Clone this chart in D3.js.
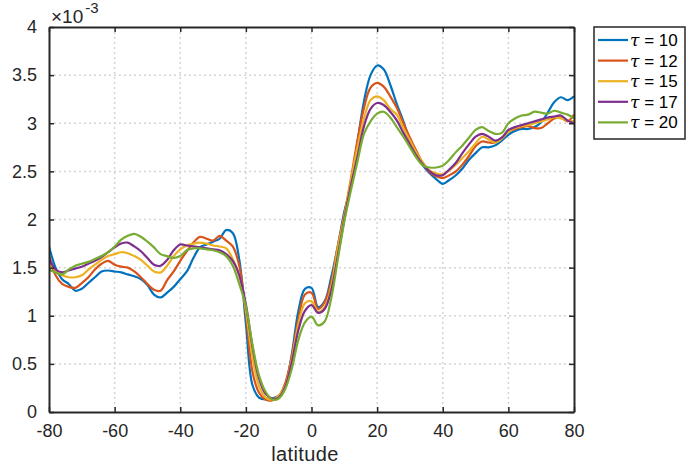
<!DOCTYPE html>
<html>
<head>
<meta charset="utf-8">
<script src="https://cdn.jsdelivr.net/npm/d3@7"></script>
<style>
  body { margin: 0; background: #fff; }
  svg { font-family: "Liberation Sans", Arial, Helvetica, sans-serif; }
</style>
</head>
<body>
<div id="chart"></div>
<script>
// latitude grid and the five series (values are x 1e-3)
var lat = [-80,-78,-76,-74,-72,-70,-68,-66,-64,-62,-60,-58,-56,-54,-52,-50,-48,-46,-44,-42,
  -40,-38,-36,-34,-32,-30,-28,-26,-24,-22,-20,-18,-16,-14,-12,-10,-8,-6,-4,-2,
  0,2,4,6,8,10,12,14,16,18,20,22,24,26,28,30,32,34,36,38,
  40,42,44,46,48,50,52,54,56,58,60,62,64,66,68,70,72,74,76,78,80];

var tau10 = [1.72,1.50,1.38,1.33,1.26,1.28,1.34,1.40,1.46,1.47,1.46,1.45,1.43,1.41,1.38,1.32,1.22,1.19,1.24,1.30,
  1.38,1.46,1.60,1.71,1.74,1.77,1.80,1.89,1.86,1.58,0.92,0.28,0.15,0.13,0.14,0.17,0.28,0.60,1.05,1.28,
  1.29,1.09,1.15,1.40,1.72,2.08,2.35,2.80,3.23,3.50,3.60,3.56,3.40,3.20,3.02,2.82,2.68,2.56,2.48,2.42,
  2.37,2.41,2.46,2.53,2.62,2.69,2.75,2.75,2.77,2.82,2.88,2.92,2.94,2.94,2.96,3.01,3.11,3.22,3.27,3.24,3.28];

var tau12 = [1.63,1.42,1.33,1.30,1.29,1.34,1.40,1.48,1.54,1.57,1.53,1.51,1.50,1.46,1.40,1.33,1.27,1.26,1.37,1.46,
  1.57,1.67,1.76,1.82,1.80,1.78,1.83,1.78,1.72,1.52,1.02,0.42,0.20,0.13,0.12,0.16,0.30,0.58,0.96,1.22,
  1.24,1.07,1.14,1.35,1.72,2.05,2.42,2.82,3.16,3.37,3.42,3.38,3.28,3.16,3.00,2.85,2.71,2.58,2.49,2.45,
  2.43,2.46,2.50,2.57,2.66,2.76,2.81,2.80,2.80,2.85,2.91,2.94,2.96,2.97,2.95,2.95,3.00,3.05,3.06,3.02,3.09];

var tau15 = [1.55,1.47,1.42,1.40,1.40,1.42,1.48,1.53,1.58,1.62,1.64,1.66,1.65,1.62,1.58,1.52,1.46,1.45,1.52,1.62,
  1.69,1.73,1.75,1.76,1.75,1.73,1.72,1.70,1.59,1.42,1.06,0.57,0.27,0.15,0.13,0.17,0.27,0.55,0.91,1.13,
  1.15,1.04,1.09,1.30,1.70,2.03,2.40,2.75,3.05,3.24,3.28,3.24,3.15,3.09,2.95,2.82,2.69,2.59,2.51,2.48,
  2.47,2.51,2.57,2.64,2.71,2.79,2.86,2.83,2.80,2.84,2.91,2.95,2.97,2.98,3.00,3.02,3.04,3.06,3.05,3.03,3.02];

var tau17 = [1.60,1.48,1.45,1.47,1.49,1.51,1.54,1.57,1.61,1.66,1.71,1.75,1.76,1.72,1.67,1.60,1.53,1.52,1.58,1.68,
  1.74,1.73,1.72,1.71,1.70,1.69,1.68,1.64,1.57,1.42,1.12,0.68,0.35,0.19,0.14,0.15,0.26,0.52,0.85,1.05,
  1.11,1.03,1.07,1.26,1.62,2.00,2.35,2.65,2.97,3.15,3.21,3.19,3.12,3.03,2.90,2.78,2.66,2.57,2.50,2.46,
  2.46,2.52,2.59,2.69,2.78,2.86,2.89,2.86,2.82,2.85,2.93,2.96,2.98,3.00,3.02,3.04,3.06,3.07,3.08,3.03,3.00];

var tau20 = [1.48,1.45,1.43,1.48,1.52,1.54,1.56,1.59,1.62,1.66,1.72,1.79,1.83,1.85,1.82,1.77,1.71,1.64,1.62,1.60,
  1.62,1.68,1.70,1.70,1.69,1.68,1.66,1.62,1.52,1.33,1.10,0.70,0.38,0.21,0.13,0.14,0.24,0.45,0.75,0.93,
  0.99,0.90,0.94,1.18,1.58,1.98,2.30,2.60,2.89,3.02,3.10,3.12,3.06,2.96,2.86,2.75,2.64,2.56,2.54,2.54,
  2.56,2.62,2.70,2.77,2.85,2.93,2.96,2.92,2.89,2.90,3.00,3.05,3.08,3.09,3.12,3.11,3.10,3.13,3.11,3.09,3.05];

var seriesNames = ["10", "12", "15", "17", "20"];
var seriesValues = [tau10, tau12, tau15, tau17, tau20];
var colors = ["#0072BD", "#D95319", "#EDB120", "#7E2F8E", "#77AC30"];

var xTicks = [-80, -60, -40, -20, 0, 20, 40, 60, 80];
var yTicks = [0, 0.5, 1, 1.5, 2, 2.5, 3, 3.5, 4];

var W = 686, H = 466;
var margin = {top: 27, right: 112, bottom: 54, left: 49};
var iw = W - margin.left - margin.right;
var ih = H - margin.top - margin.bottom;
var axisColor = "#262626";

var svg = d3.select("#chart").append("svg")
    .attr("width", W)
    .attr("height", H);

var g = svg.append("g")
    .attr("transform", "translate(" + margin.left + "," + margin.top + ")");

var x = d3.scaleLinear().domain([-80, 80]).range([0, iw]);
var y = d3.scaleLinear().domain([0, 4]).range([ih, 0]);

// dotted grid
g.append("g").selectAll("line.gx")
    .data(xTicks.slice(1, -1))
    .enter().append("line")
    .attr("x1", function(d) { return x(d); })
    .attr("x2", function(d) { return x(d); })
    .attr("y1", 0).attr("y2", ih)
    .attr("stroke", "#d4d4d4").attr("stroke-width", 1.5)
    .attr("stroke-dasharray", "2,3");

g.append("g").selectAll("line.gy")
    .data(yTicks.slice(1, -1))
    .enter().append("line")
    .attr("y1", function(d) { return y(d); })
    .attr("y2", function(d) { return y(d); })
    .attr("x1", 0).attr("x2", iw)
    .attr("stroke", "#d4d4d4").attr("stroke-width", 1.5)
    .attr("stroke-dasharray", "2,3");

// lines
g.append("clipPath").attr("id", "clip")
    .append("rect").attr("width", iw).attr("height", ih);

var line = d3.line()
    .x(function(d, i) { return x(lat[i]); })
    .y(function(d) { return y(d); })
    .curve(d3.curveCatmullRom.alpha(0.5));

g.append("g").attr("clip-path", "url(#clip)")
    .selectAll("path")
    .data(seriesValues)
    .enter().append("path")
    .attr("d", line)
    .attr("fill", "none")
    .attr("stroke", function(d, i) { return colors[i]; })
    .attr("stroke-width", 2.2)
    .attr("stroke-linejoin", "round");

// axes (box with inward ticks), plain hyphen for negatives like matlab
var fmt = function(d) { return String(d); };

g.append("g")
    .attr("transform", "translate(0," + ih + ")")
    .call(d3.axisBottom(x).tickValues(xTicks).tickSizeInner(-5).tickSizeOuter(0).tickPadding(12).tickFormat(fmt));

g.append("g")
    .call(d3.axisLeft(y).tickValues(yTicks).tickSizeInner(-5).tickSizeOuter(0).tickPadding(12).tickFormat(fmt));

g.append("g")
    .call(d3.axisTop(x).tickValues(xTicks).tickSizeInner(-5).tickSizeOuter(0).tickFormat(""));
g.append("g")
    .attr("transform", "translate(" + iw + ",0)")
    .call(d3.axisRight(y).tickValues(yTicks).tickSizeInner(-5).tickSizeOuter(0).tickFormat(""));

g.selectAll(".domain").attr("stroke", axisColor).attr("stroke-width", 2);
g.selectAll(".tick line").attr("stroke", axisColor).attr("stroke-width", 1.5);
g.selectAll(".tick text")
    .attr("fill", axisColor)
    .style("font-size", "18px")
    .style("font-family", "'Liberation Sans', Arial, sans-serif");

// x label
svg.append("text")
    .attr("x", 305)
    .attr("y", 461)
    .attr("text-anchor", "middle")
    .attr("fill", axisColor)
    .style("font-size", "20px")
    .style("letter-spacing", "0.4px")
    .text("latitude");

// exponent label
var ex = svg.append("text")
    .attr("x", 51)
    .attr("y", 23)
    .attr("fill", axisColor)
    .style("font-size", "19px");
ex.append("tspan").text("\u00d710");
ex.append("tspan").attr("dx", 2).attr("dy", -10).style("font-size", "15px").text("-3");

// legend
var lg = svg.append("g").attr("transform", "translate(594,27)");
lg.append("rect")
    .attr("width", 91).attr("height", 112)
    .attr("fill", "#fff")
    .attr("stroke", axisColor).attr("stroke-width", 1.5);

var rows = lg.selectAll("g.row")
    .data(seriesNames)
    .enter().append("g")
    .attr("transform", function(d, i) { return "translate(0," + (13 + i * 20.6) + ")"; });

rows.append("line")
    .attr("x1", 4).attr("x2", 34)
    .attr("stroke", function(d, i) { return colors[i]; })
    .attr("stroke-width", 2.2);

var lt = rows.append("text")
    .attr("x", 36)
    .attr("y", 6)
    .attr("fill", "#000")
    .style("font-size", "17px");
lt.append("tspan").style("font-family", "'DejaVu Serif', serif").style("font-style", "italic").text("\u03c4");
lt.append("tspan").text(function(d) { return " = " + d; });
</script>
</body>
</html>
